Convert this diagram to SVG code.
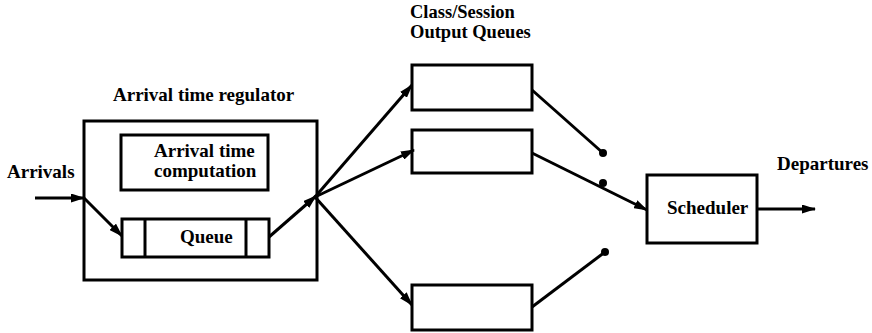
<svg xmlns="http://www.w3.org/2000/svg" width="872" height="333" viewBox="0 0 872 333">
  <style>
    .box { fill: none; stroke: #000; stroke-width: 3; }
    .wire { fill: none; stroke: #000; stroke-width: 3; }
    .lbl { font-family: "Liberation Serif", "Times New Roman", serif; font-weight: bold; font-size: 19px; fill: #000; }
    .head { font-size: 18.5px; }
  </style>
  <defs>
    <marker id="arrow" viewBox="0 0 14 9" refX="13" refY="4.5" markerWidth="14" markerHeight="9" markerUnits="userSpaceOnUse" orient="auto">
      <path d="M0,0 L14,4.5 L0,9 Z" fill="#000"/>
    </marker>
  </defs>
  <rect width="872" height="333" fill="#fff"/>

  <!-- arrival time regulator -->
  <g id="regulator">
    <rect class="box" x="84" y="121" width="233" height="159"/>
    <text class="lbl" x="113" y="101">Arrival time regulator</text>
  </g>
  <g id="computation">
    <rect class="box" x="121" y="135" width="147" height="55"/>
    <text class="lbl" x="154" y="157">Arrival time</text>
    <text class="lbl" x="154" y="177">computation</text>
  </g>
  <g id="queue">
    <rect class="box" x="122" y="219" width="147" height="38"/>
    <line class="wire" x1="145" y1="219" x2="145" y2="257"/>
    <line class="wire" x1="246" y1="219" x2="246" y2="257"/>
    <text class="lbl" x="180" y="243">Queue</text>
  </g>

  <!-- class/session output queues -->
  <g id="outq1"><rect class="box" x="412" y="65" width="120" height="45"/></g>
  <g id="outq2"><rect class="box" x="412" y="130" width="120" height="43"/></g>
  <g id="outq3"><rect class="box" x="412" y="285" width="120" height="45"/></g>
  <g id="outq-label">
    <text class="lbl head" x="410" y="17.5">Class/Session</text>
    <text class="lbl head" x="410" y="38">Output Queues</text>
  </g>

  <g id="scheduler">
    <rect class="box" x="647" y="175" width="110" height="68"/>
    <text class="lbl" x="667" y="214">Scheduler</text>
  </g>

  <g id="end-labels">
    <text class="lbl" x="7" y="178">Arrivals</text>
    <text class="lbl" x="777" y="170">Departures</text>
  </g>

  <g id="connectors">
    <line class="wire" x1="35" y1="198" x2="84" y2="198" marker-end="url(#arrow)"/>
    <line class="wire" x1="84" y1="198" x2="122" y2="236" marker-end="url(#arrow)"/>
    <line class="wire" x1="269" y1="237" x2="316" y2="196" marker-end="url(#arrow)"/>
    <line class="wire" x1="315" y1="197" x2="412" y2="85" marker-end="url(#arrow)"/>
    <line class="wire" x1="315" y1="197" x2="414" y2="150" marker-end="url(#arrow)"/>
    <line class="wire" x1="315" y1="197" x2="412" y2="305" marker-end="url(#arrow)"/>
    <line class="wire" x1="532" y1="90" x2="603" y2="153"/>
    <line class="wire" x1="532" y1="153" x2="647" y2="210" marker-end="url(#arrow)"/>
    <line class="wire" x1="532" y1="307" x2="605" y2="252"/>
    <circle cx="603" cy="153" r="4" fill="#000"/>
    <circle cx="603" cy="183" r="4" fill="#000"/>
    <circle cx="605" cy="252" r="4" fill="#000"/>
    <line class="wire" x1="757" y1="209" x2="815" y2="209" marker-end="url(#arrow)"/>
  </g>
</svg>
